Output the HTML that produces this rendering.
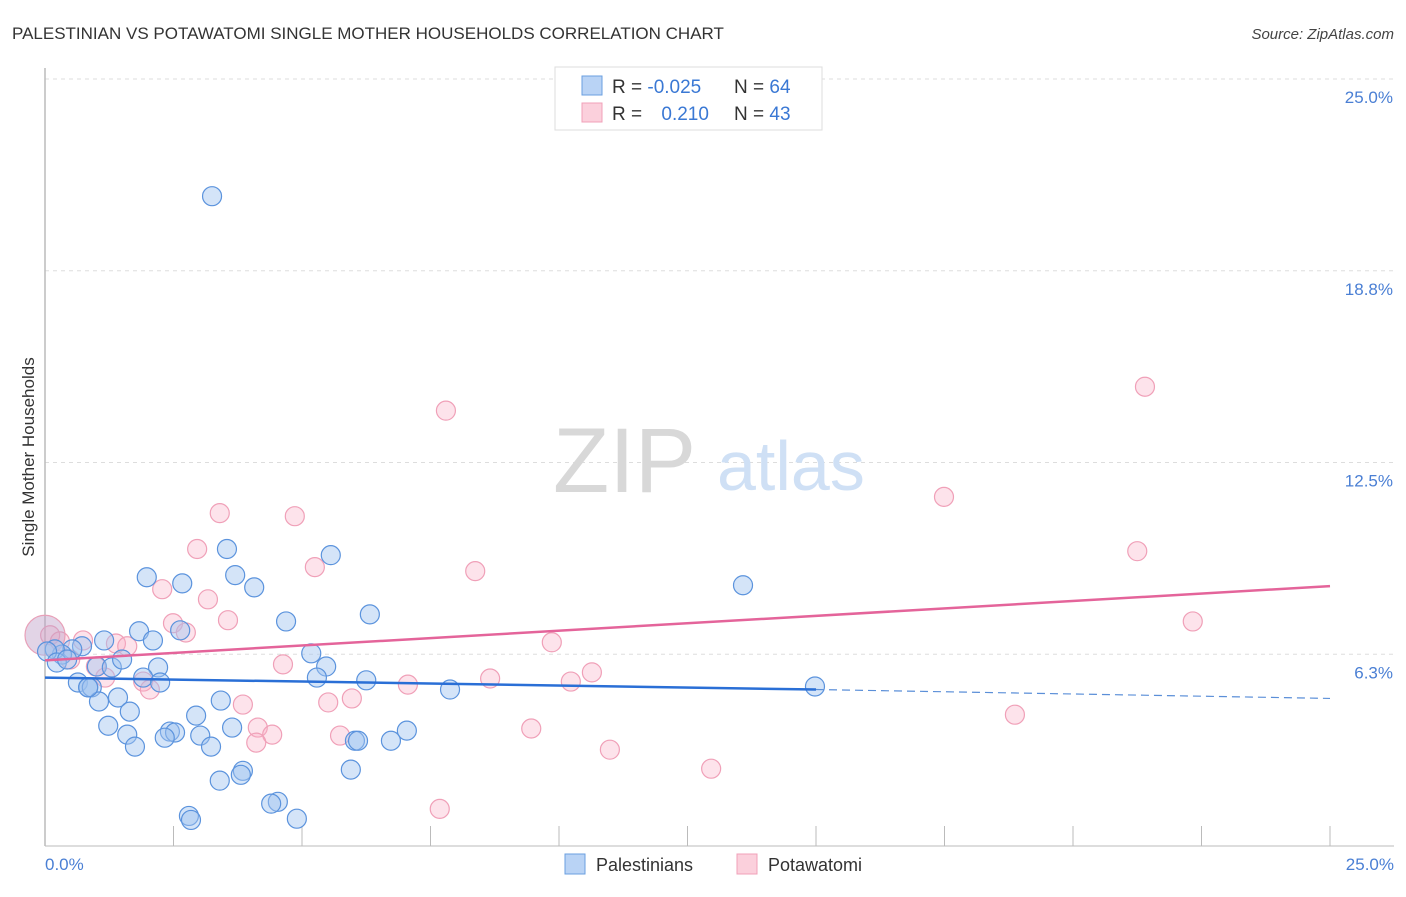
<!DOCTYPE html>
<html><head><meta charset="utf-8"><style>
body{margin:0;background:#fff;font-family:"Liberation Sans",sans-serif;}
svg text{font-family:"Liberation Sans",sans-serif;}
</style></head><body>
<svg id="chart" width="1406" height="892" viewBox="0 0 1406 892" xmlns="http://www.w3.org/2000/svg">
<text x="12" y="39" font-size="17" fill="#333">PALESTINIAN VS POTAWATOMI SINGLE MOTHER HOUSEHOLDS CORRELATION CHART</text>
<text x="1394" y="39" font-size="15" fill="#444" font-style="italic" text-anchor="end">Source: ZipAtlas.com</text>
<g id="grid"></g>
<g>
<text x="553" y="492" font-size="92" fill="#d8d8d8" font-family="Liberation Serif, serif">ZIP</text>
<text x="717" y="490" font-size="70" fill="#cfe0f5">atlas</text>
</g>
<line x1="45" y1="68" x2="45" y2="846" stroke="#bbb" stroke-width="1.5"/>
<line x1="45" y1="846" x2="1394" y2="846" stroke="#bbb" stroke-width="1"/>
<g id="ticks"></g>
<g id="ylabels"></g>
<text transform="translate(34,457) rotate(-90)" font-size="17" fill="#333" text-anchor="middle">Single Mother Households</text>
<text x="45" y="870" font-size="17" fill="#4a7fd4">0.0%</text>
<text x="1394" y="870" font-size="17" fill="#4a7fd4" text-anchor="end">25.0%</text>
<g id="pink"></g>
<g id="blue"></g>
<g id="trends"></g>
<g>
<rect x="555" y="67" width="267" height="63" fill="#fff" stroke="#ddd"/>
<rect x="582" y="76" width="20" height="19" fill="#b9d3f5" stroke="#6a9fe0"/>
<rect x="582" y="103" width="20" height="19" fill="#fbd0dc" stroke="#f0a0b8"/>
<text x="612" y="93" font-size="19" fill="#333">R = <tspan fill="#3a78d4">-0.025</tspan></text>
<text x="734" y="93" font-size="19" fill="#333">N = <tspan fill="#3a78d4">64</tspan></text>
<text x="612" y="120" font-size="19" fill="#333">R = <tspan fill="#3a78d4" dx="14">0.210</tspan></text>
<text x="734" y="120" font-size="19" fill="#333">N = <tspan fill="#3a78d4">43</tspan></text>
</g>
<g>
<rect x="565" y="854" width="20" height="20" fill="#b9d3f5" stroke="#6a9fe0"/>
<text x="596" y="871" font-size="18" fill="#333">Palestinians</text>
<rect x="737" y="854" width="20" height="20" fill="#fbd0dc" stroke="#f0a0b8"/>
<text x="768" y="871" font-size="18" fill="#333">Potawatomi</text>
</g>
</svg>
<script>
const yTicks=[6.25,12.5,18.75,25];
const yTickLabels=["6.3%","12.5%","18.8%","25.0%"];
const xTicks=[0,2.5,5,7.5,10,12.5,15,17.5,20,22.5,25];
const blueX=[3.25,3.54,5.56,1.98,2.67,3.70,4.07,13.58,6.32,4.69,1.83,1.15,2.10,2.63,0.72,0.53,0.33,0.19,0.04,0.23,0.43,1.01,1.30,1.50,2.20,5.18,5.47,5.29,6.25,7.88,14.98,0.64,0.84,0.91,1.05,1.42,1.65,1.91,2.24,3.42,2.94,1.23,1.60,2.43,2.53,2.33,1.75,3.02,3.23,3.64,7.04,6.73,6.03,6.09,5.95,3.85,3.81,3.40,2.80,2.84,4.53,4.40,4.90,0.84];
const blueY=[21.18,9.68,9.48,8.76,8.56,8.83,8.43,8.50,7.55,7.32,7.00,6.70,6.70,7.03,6.51,6.41,6.24,6.41,6.34,5.98,6.08,5.85,5.82,6.08,5.82,6.28,5.85,5.49,5.40,5.10,5.20,5.33,5.17,5.17,4.71,4.84,4.38,5.49,5.33,4.74,4.25,3.92,3.63,3.73,3.70,3.53,3.24,3.60,3.24,3.86,3.76,3.43,3.43,3.43,2.49,2.45,2.32,2.13,0.98,0.85,1.44,1.38,0.89,5.17];
const pinkX=[7.80,21.40,3.40,4.86,17.49,2.96,21.25,5.25,8.37,2.28,3.17,22.33,3.56,2.49,2.74,0.74,1.38,1.60,9.86,0.49,0.99,1.17,1.91,2.04,4.63,5.97,5.51,3.85,7.06,8.66,10.23,10.64,18.87,9.46,4.14,5.74,4.42,4.11,10.99,12.96,7.68,0.10,0.29];
const pinkY=[14.19,14.97,10.85,10.75,11.38,9.68,9.61,9.09,8.96,8.37,8.04,7.32,7.36,7.26,6.96,6.70,6.60,6.51,6.64,6.08,5.85,5.49,5.36,5.10,5.92,4.81,4.68,4.61,5.26,5.46,5.36,5.66,4.28,3.83,3.86,3.60,3.63,3.37,3.14,2.52,1.21,6.87,6.67];
const blueTrendX=[0,15,25];
const blueTrendY=[5.49,5.10,4.81];
const pinkTrendX=[0,25];
const pinkTrendY=[6.05,8.47];
const bigPoint=[0,6.87];
const NS="http://www.w3.org/2000/svg";
function sx(v){return 45+v/25*1285;}
function sy(v){return 846-v/25*767;}
function mk(tag,attrs,parent){const e=document.createElementNS(NS,tag);for(const k in attrs)e.setAttribute(k,attrs[k]);document.getElementById(parent).appendChild(e);return e;}
yTicks.forEach((t,i)=>{
 const l=mk('line',{x1:45,x2:1394,y1:sy(t),y2:sy(t),stroke:'#ddd','stroke-dasharray':'4,4'},'grid');
 
 
 const tx=mk('text',{x:1393,y:sy(t)+24,'font-size':17,fill:'#4a7fd4','text-anchor':'end'},'ylabels');
 tx.textContent=yTickLabels[i];
 
 
});
xTicks.forEach(t=>{
 const l=mk('line',{x1:sx(t),x2:sx(t),y1:826,y2:846,stroke:'#bbb'},'ticks');
 
 
});
pinkX.forEach((x,i)=>{
 const c=mk('circle',{cx:sx(x),cy:sy(pinkY[i]),r:9.5,fill:'rgba(248,175,198,0.35)',stroke:'#f0a0b8','stroke-width':1.2},'pink');
 
 
});
blueX.forEach((x,i)=>{
 const c=mk('circle',{cx:sx(x),cy:sy(blueY[i]),r:9.5,fill:'rgba(160,196,240,0.45)',stroke:'#5b93dd','stroke-width':1.2},'blue');
 
 
});
const bp=mk('circle',{cx:sx(bigPoint[0]),cy:sy(bigPoint[1]),r:20,fill:'rgba(190,160,200,0.45)',stroke:'#e8a0b8','stroke-width':1.2},'pink');


const pl=mk('line',{x1:sx(pinkTrendX[0]),y1:sy(pinkTrendY[0]),x2:sx(pinkTrendX[1]),y2:sy(pinkTrendY[1]),stroke:'#e4649a','stroke-width':2.5},'trends');


const bl=mk('line',{x1:sx(blueTrendX[0]),y1:sy(blueTrendY[0]),x2:sx(blueTrendX[1]),y2:sy(blueTrendY[1]),stroke:'#2a6fd6','stroke-width':2.5},'trends');


const bd=mk('line',{x1:sx(blueTrendX[1]),y1:sy(blueTrendY[1]),x2:sx(blueTrendX[2]),y2:sy(blueTrendY[2]),stroke:'#5b8fd8','stroke-width':1.2,'stroke-dasharray':'8,5'},'trends');


</script>
</body></html>
